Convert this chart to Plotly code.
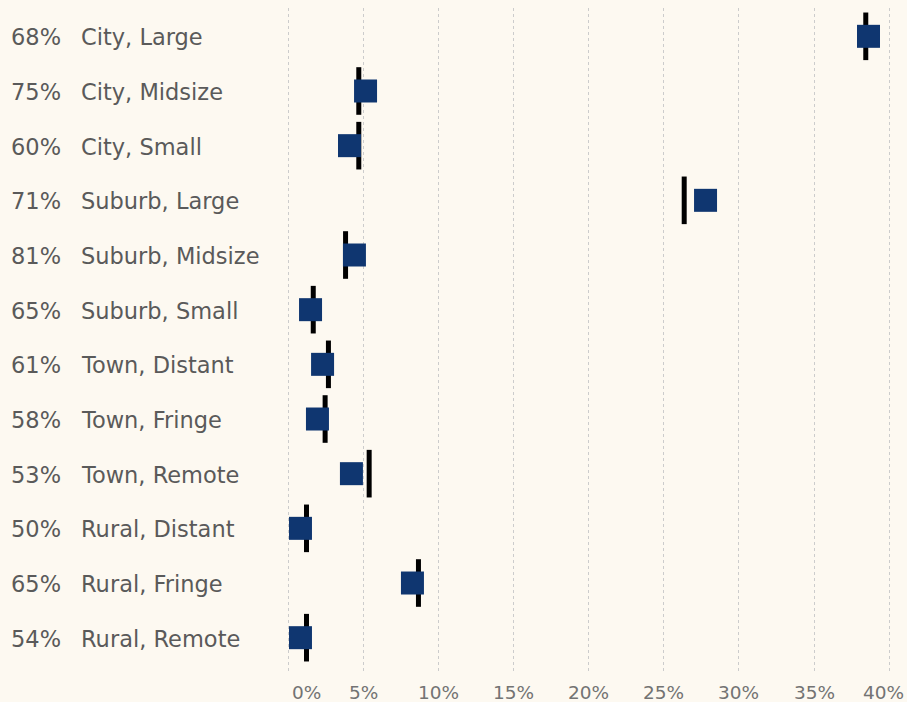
import plotly.graph_objects as go

categories = ["City, Large", "City, Midsize", "City, Small", "Suburb, Large",
              "Suburb, Midsize", "Suburb, Small", "Town, Distant", "Town, Fringe",
              "Town, Remote", "Rural, Distant", "Rural, Fringe", "Rural, Remote"]
share_labels = ["68%", "75%", "60%", "71%", "81%", "65%", "61%", "58%", "53%", "50%", "65%", "54%"]
current_values = [38.62, 5.16, 4.09, 27.78, 4.42, 1.50, 2.30, 1.96, 4.22, 0.83, 8.28, 0.83]
reference_values = [38.44, 4.71, 4.71, 26.36, 3.83, 1.68, 2.69, 2.47, 5.40, 1.23, 8.68, 1.23]
tick_values = [0, 5, 10, 15, 20, 25, 30, 35, 40]
tick_labels = ["0%", "5%", "10%", "15%", "20%", "25%", "30%", "35%", "40%"]

BG = "#fdf9f1"
FONT = "DejaVu Sans"
rows = list(range(len(categories)))

fig = go.Figure()
fig.add_trace(go.Scatter(
    x=reference_values, y=rows, mode="markers",
    marker=dict(symbol="line-ns", size=34, line=dict(width=5, color="#000000")),
    hoverinfo="skip", showlegend=False))
fig.add_trace(go.Scatter(
    x=current_values, y=rows, mode="markers",
    marker=dict(symbol="square", size=23, color="#0f3670", line=dict(width=0)),
    hoverinfo="skip", showlegend=False))

annotations = []
for i, (pct, cat) in enumerate(zip(share_labels, categories)):
    annotations.append(dict(x=0, xref="paper", y=i, yref="y", text=pct, showarrow=False,
                            xanchor="left", yanchor="middle", xshift=-271, yshift=-1,
                            font=dict(family=FONT, size=22.5, color="#5a5a5a")))
    annotations.append(dict(x=0, xref="paper", y=i, yref="y", text=cat, showarrow=False,
                            xanchor="left", yanchor="middle", xshift=-201, yshift=-1,
                            font=dict(family=FONT, size=22.5, color="#5a5a5a")))
for j, (tv, tl) in enumerate(zip(tick_values, tick_labels)):
    if j == 0:
        anchor, shift = "left", 2
    elif j == len(tick_values) - 1:
        anchor, shift = "right", 17
    else:
        anchor, shift = "center", 0
    annotations.append(dict(x=tv, xref="x", y=0, yref="paper", text=tl, showarrow=False,
                            xanchor=anchor, yanchor="middle", xshift=shift, yshift=-19,
                            font=dict(family=FONT, size=18.5, color="#737373")))

fig.update_layout(
    width=907, height=702,
    margin=dict(l=280, r=2, t=8, b=29),
    paper_bgcolor=BG, plot_bgcolor=BG,
    xaxis=dict(range=[-0.532, 41.05], tickvals=tick_values, showticklabels=False,
               showgrid=True, gridcolor="#cccccc", griddash="dot", gridwidth=1,
               zeroline=False, showline=False, fixedrange=True),
    yaxis=dict(range=[11.646, -0.518], showticklabels=False, showgrid=False,
               zeroline=False, showline=False, fixedrange=True),
    annotations=annotations,
    showlegend=False,
)

fig.write_html("out.html", config={"displayModeBar": False},
               post_script="document.body.style.margin='0';document.body.style.background='" + BG + "';")
